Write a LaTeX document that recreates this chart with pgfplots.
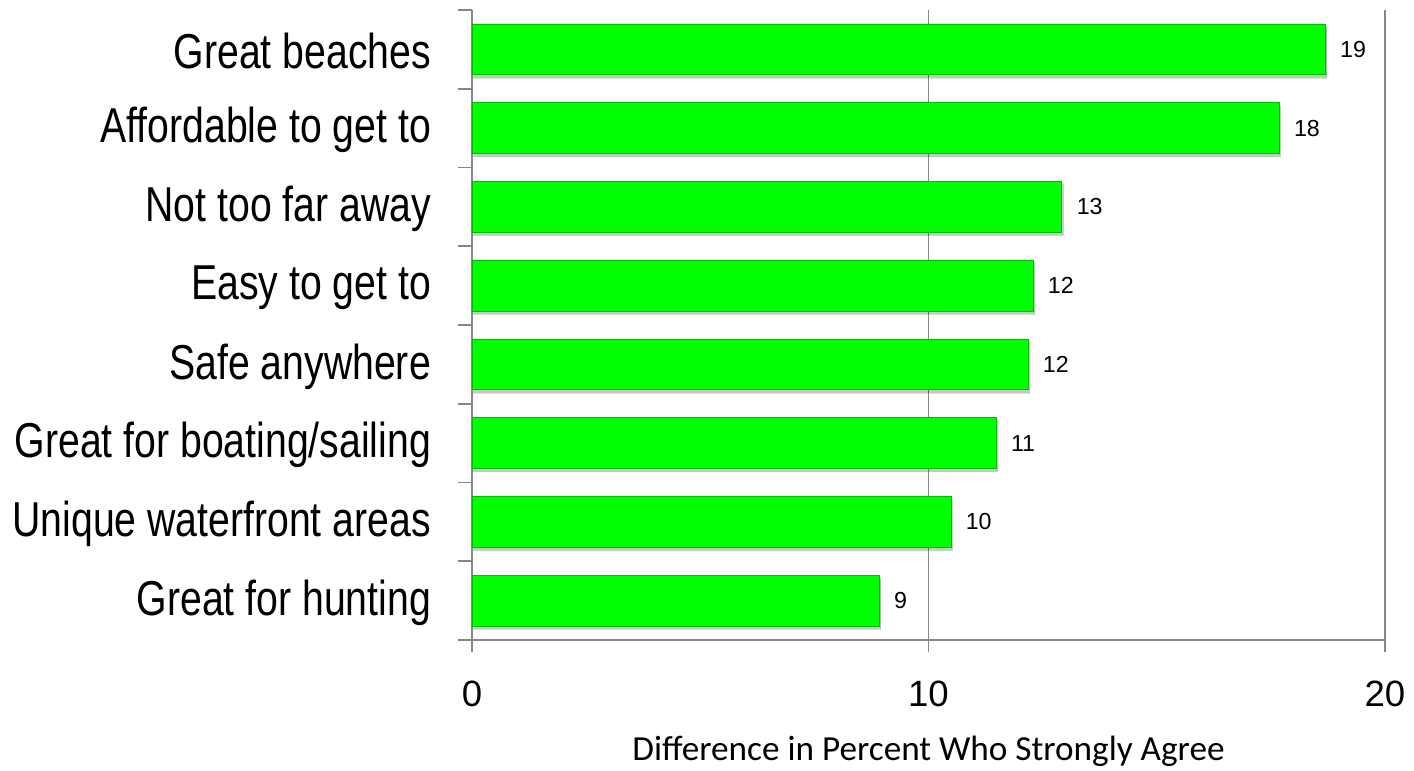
\documentclass[border=0pt]{standalone}
\usepackage{pgfplots}
\pgfplotsset{compat=1.18}
\usepackage{fontspec}
\setmainfont{Liberation Sans}
\newfontfamily\narrowfont[FakeStretch=0.8]{Liberation Sans}
\newfontfamily\calibri{Carlito}
\usetikzlibrary{shadows}
\definecolor{barg}{RGB}{0,255,0}
\definecolor{axgray}{RGB}{134,134,134}
\begin{document}
\begin{tikzpicture}
\path[use as bounding box] (-236pt,-65.5pt) rectangle (471pt,320pt);
\begin{axis}[
  scale only axis, width=456.5pt, height=315pt,
  at={(0,0)}, anchor=south west,
  xbar, bar width=0.645,
  xmin=0, xmax=20, ymin=-0.5, ymax=7.5,
  axis lines=left,
  axis line style={-, axgray, line width=0.9pt},
  xtick={0,10,20},
  extra x ticks={10,20},
  extra x tick labels={},
  extra x tick style={grid=major, grid style={axgray, line width=0.9pt}},
  tick align=outside,
  major tick length=6pt,
  minor tick length=7pt,
  tick style={axgray, line width=0.9pt},
  ytick={0,...,7},
  minor ytick={-0.5,0.5,...,7.5},
  major y tick style={draw=none},
  yticklabels={Great for hunting, Unique waterfront areas, Great for boating/sailing, Safe anywhere, Easy to get to, Not too far away, Affordable to get to, Great beaches},
  yticklabel style={font=\narrowfont\fontsize{24.5}{27}\selectfont, xshift=-11pt, yshift=-1pt},
  xticklabel style={font=\fontsize{18.3}{20}\selectfont, yshift=-11pt},
  /pgf/number format/assume math mode=true,
  xlabel={\calibri\fontsize{17.6}{20}\selectfont Difference in Percent Who Strongly Agree},
  xlabel style={at={(axis description cs:0.5,0)}, anchor=center, yshift=-55.5pt},
  nodes near coords={\pgfmathprintnumber[fixed,precision=0]{\pgfplotspointmeta}},
  point meta=x,
  every node near coord/.append style={font=\fontsize{11.6}{12}\selectfont, black, anchor=west, xshift=4pt},
]
\addplot[fill=barg, draw=green!75!black, line width=0.3pt,
  drop shadow={shadow xshift=0.8pt, shadow yshift=-1.6pt, fill=black, opacity=0.22}]
  coordinates {(8.92,0) (10.49,1) (11.48,2) (12.18,3) (12.29,4) (12.92,5) (17.68,6) (18.69,7)};
\draw[axgray, line width=0.9pt] (axis cs:0,-0.5) -- ++(0pt,-6pt);
\draw[axgray, line width=0.9pt] (axis cs:10,-0.5) -- ++(0pt,-6pt);
\draw[axgray, line width=0.9pt] (axis cs:20,-0.5) -- ++(0pt,-6pt);
\end{axis}
\end{tikzpicture}
\end{document}
